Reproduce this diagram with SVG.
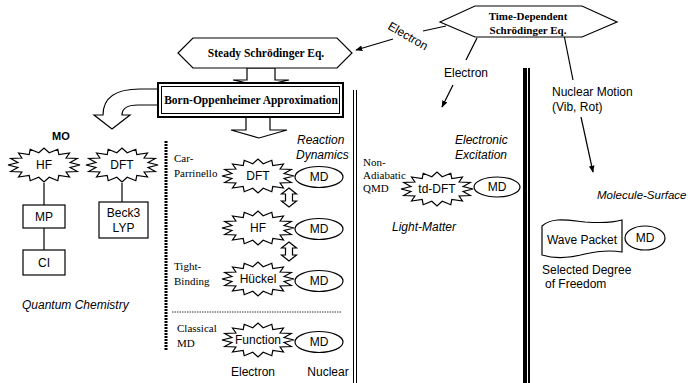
<svg xmlns="http://www.w3.org/2000/svg" width="691" height="383" viewBox="0 0 691 383">
<style>
.sh{fill:#fff;stroke:#000;stroke-width:1.2}
.ln{fill:none;stroke:#000;stroke-width:1.2}
.sans{font-family:"Liberation Sans",Arial,sans-serif;font-size:12px;fill:#000}
.it{font-style:italic}
.ser{font-family:"Liberation Serif","Times New Roman",serif;font-size:11px;fill:#000}
.sb{font-family:"Liberation Serif","Times New Roman",serif;font-size:11.5px;font-weight:bold;fill:#000}
.c{text-anchor:middle}
.star{fill:#fff;stroke:#000;stroke-width:1.2}
</style>
<defs>
<path id="star" d="M36,0 L26.1,2.4 L33.3,6.5 L22.1,7 L25.5,12 L14.8,10.5 L13.8,15.7 L5.2,12.3 L0,17 L-5.2,12.3 L-13.8,15.7 L-14.8,10.5 L-25.5,12 L-22.1,7 L-33.3,6.5 L-26.1,2.4 L-36,0 L-26.1,-2.4 L-33.3,-6.5 L-22.1,-7 L-25.5,-12 L-14.8,-10.5 L-13.8,-15.7 L-5.2,-12.3 L0,-17 L5.2,-12.3 L13.8,-15.7 L14.8,-10.5 L25.5,-12 L22.1,-7 L33.3,-6.5 L26.1,-2.4 Z"/>
<marker id="ah" viewBox="0 0 10 10" refX="9" refY="5" markerWidth="7" markerHeight="7" orient="auto" markerUnits="userSpaceOnUse"><path d="M0,1 L10,5 L0,9 Z" fill="#000"/></marker>
</defs>
<rect width="691" height="383" fill="#fff"/>

<g id="connectors">
<path class="sh" d="M247,68 L275,68 L275,80 L289,80 L261,86 L233,80 L247,80 Z"/>
<path class="sh" d="M246,117 L270,117 L270,130 L287,130 L259,138 L231,130 L246,130 Z"/>
<path class="sh" d="M158,89 L140,89 Q103,89 103,115 L94,115 L112,129 L130,115 L122,115 Q122,105 138,105 L158,105 Z"/>
<line class="ln" x1="446" y1="26" x2="423" y2="31"/>
<line class="ln" x1="393" y1="39" x2="356" y2="50" marker-end="url(#ah)"/>
<line class="ln" x1="477" y1="38" x2="466" y2="60"/>
<line class="ln" x1="453" y1="85" x2="442" y2="107" marker-end="url(#ah)"/>
<line class="ln" x1="563" y1="30" x2="573" y2="80"/>
<line class="ln" x1="581" y1="117" x2="593" y2="172" marker-end="url(#ah)"/>
<line class="ln" x1="44" y1="183" x2="44" y2="205"/>
<line class="ln" x1="44" y1="228" x2="44" y2="250"/>
<line class="ln" x1="122" y1="183" x2="122" y2="202"/>
<path class="sh" d="M289,188 L296.5,194 L292.5,194 L292.5,201 L296.5,201 L289,207 L281.5,201 L285.5,201 L285.5,194 L281.5,194 Z"/>
<path class="sh" d="M289,242 L296.5,248 L292.5,248 L292.5,255 L296.5,255 L289,261 L281.5,255 L285.5,255 L285.5,248 L281.5,248 Z"/>
</g>

<g id="separators">
<line x1="166" y1="141" x2="166" y2="350" stroke="#000" stroke-width="3" stroke-dasharray="2 1"/>
<line x1="172" y1="312" x2="342" y2="312" stroke="#000" stroke-width="0.8" stroke-dasharray="1.5 1"/>
<line x1="353.5" y1="90" x2="353.5" y2="383" stroke="#000" stroke-width="1"/>
<line x1="356.5" y1="90" x2="356.5" y2="383" stroke="#000" stroke-width="1"/>
<line x1="525" y1="68" x2="525" y2="383" stroke="#000" stroke-width="4"/>
<line x1="529" y1="68" x2="529" y2="383" stroke="#000" stroke-width="2"/>
</g>

<g id="steady">
<polygon class="sh" points="178,53 193,38 337,38 352,53 337,68 193,68"/>
<text class="sb c" x="266" y="57">Steady Schrödinger Eq.</text>
</g>
<g id="timedep">
<polygon class="sh" points="440,22 475,6 582,6 617,22 582,37 475,37"/>
<text class="sb c" x="528" y="20" style="font-size:11px">Time-Dependent</text>
<text class="sb c" x="528" y="34" style="font-size:11px">Schrödinger Eq.</text>
</g>
<g id="bo">
<rect x="158" y="83" width="185" height="34" fill="#fff" stroke="#000" stroke-width="2"/>
<rect x="161.5" y="86.5" width="178" height="27" fill="none" stroke="#000" stroke-width="1"/>
<text class="sb c" x="251" y="104">Born-Oppenheimer Approximation</text>
</g>

<g id="labels-arrows">
<text class="sans c" transform="translate(408,36) rotate(30)" y="4">Electron</text>
<text class="sans c" x="466" y="77">Electron</text>
<text class="sans" x="552" y="96">Nuclear Motion</text>
<text class="sans" x="552" y="111">(Vib, Rot)</text>
</g>

<g id="mo">
<text class="sans" x="52" y="140" style="font-weight:bold;font-size:11px">MO</text>
</g>
<g id="hf-left">
<use href="#star" class="star" transform="translate(44,165)"/>
<text class="sans c" x="44" y="169">HF</text>
</g>
<g id="dft-left">
<use href="#star" class="star" transform="translate(122,165)"/>
<text class="sans c" x="122" y="169">DFT</text>
</g>
<g id="mp">
<rect class="sh" x="23" y="205" width="42" height="23"/>
<text class="sans c" x="44" y="221">MP</text>
</g>
<g id="ci">
<rect class="sh" x="23" y="250" width="42" height="25"/>
<text class="sans c" x="44" y="267">CI</text>
</g>
<g id="beck3">
<rect class="sh" x="99" y="202" width="49" height="36"/>
<text class="sans c" x="123.5" y="217">Beck3</text>
<text class="sans c" x="123.5" y="232">LYP</text>
</g>
<text class="sans it" x="22" y="309">Quantum Chemistry</text>

<g id="reaction-label">
<text class="sans it" x="297" y="144">Reaction</text>
<text class="sans it" x="296" y="159">Dynamics</text>
</g>
<g id="cp">
<text class="ser" x="174" y="162">Car-</text>
<text class="ser" x="174" y="177">Parrinello</text>
<use href="#star" class="star" transform="translate(258,176)"/>
<text class="sans c" x="258" y="180">DFT</text>
<ellipse class="sh" cx="319" cy="177" rx="24" ry="10.5"/>
<text class="sans c" x="319" y="181">MD</text>
</g>
<g id="hf-center">
<use href="#star" class="star" transform="translate(258,228)"/>
<text class="sans c" x="258" y="232">HF</text>
<ellipse class="sh" cx="319" cy="229" rx="24" ry="10.5"/>
<text class="sans c" x="319" y="233">MD</text>
</g>
<g id="tb">
<text class="ser" x="174" y="270">Tight-</text>
<text class="ser" x="174" y="285">Binding</text>
<use href="#star" class="star" transform="translate(258,279)"/>
<text class="sans c" x="258" y="283">Hückel</text>
<ellipse class="sh" cx="319" cy="281" rx="24" ry="10.5"/>
<text class="sans c" x="319" y="285">MD</text>
</g>
<g id="classical">
<text class="ser" x="177" y="332">Classical</text>
<text class="ser" x="177" y="347">MD</text>
<use href="#star" class="star" transform="translate(258,340)"/>
<text class="sans c" x="258" y="344">Function</text>
<ellipse class="sh" cx="319" cy="342" rx="24" ry="10.5"/>
<text class="sans c" x="319" y="346">MD</text>
<text class="sans c" x="253" y="376">Electron</text>
<text class="sans c" x="328" y="376">Nuclear</text>
</g>

<g id="nonadiabatic">
<text class="sans it" x="455" y="144">Electronic</text>
<text class="sans it" x="455" y="159">Excitation</text>
<text class="ser" x="363" y="166">Non-</text>
<text class="ser" x="363" y="179">Adiabatic</text>
<text class="ser" x="363" y="192">QMD</text>
<use href="#star" class="star" transform="translate(437,189)"/>
<text class="sans c" x="437" y="193">td-DFT</text>
<ellipse class="sh" cx="497" cy="187" rx="23" ry="10"/>
<text class="sans c" x="497" y="191">MD</text>
<text class="sans it" x="392" y="231">Light-Matter</text>
</g>

<g id="molsurf">
<text class="sans it" x="597" y="199" style="font-size:11.5px">Molecule-Surface</text>
<path class="sh" d="M542,226 C552,217 566,220 585,222 C600,223 612,223 622,220 L622,252 C610,250 598,251 585,254 C570,258 555,259 542,255 Z"/>
<text class="sans c" x="582" y="244">Wave Packet</text>
<ellipse class="sh" cx="645" cy="238" rx="20" ry="12"/>
<text class="sans c" x="645" y="242">MD</text>
<text class="sans" x="542" y="274">Selected Degree</text>
<text class="sans" x="545" y="288">of Freedom</text>
</g>
</svg>
